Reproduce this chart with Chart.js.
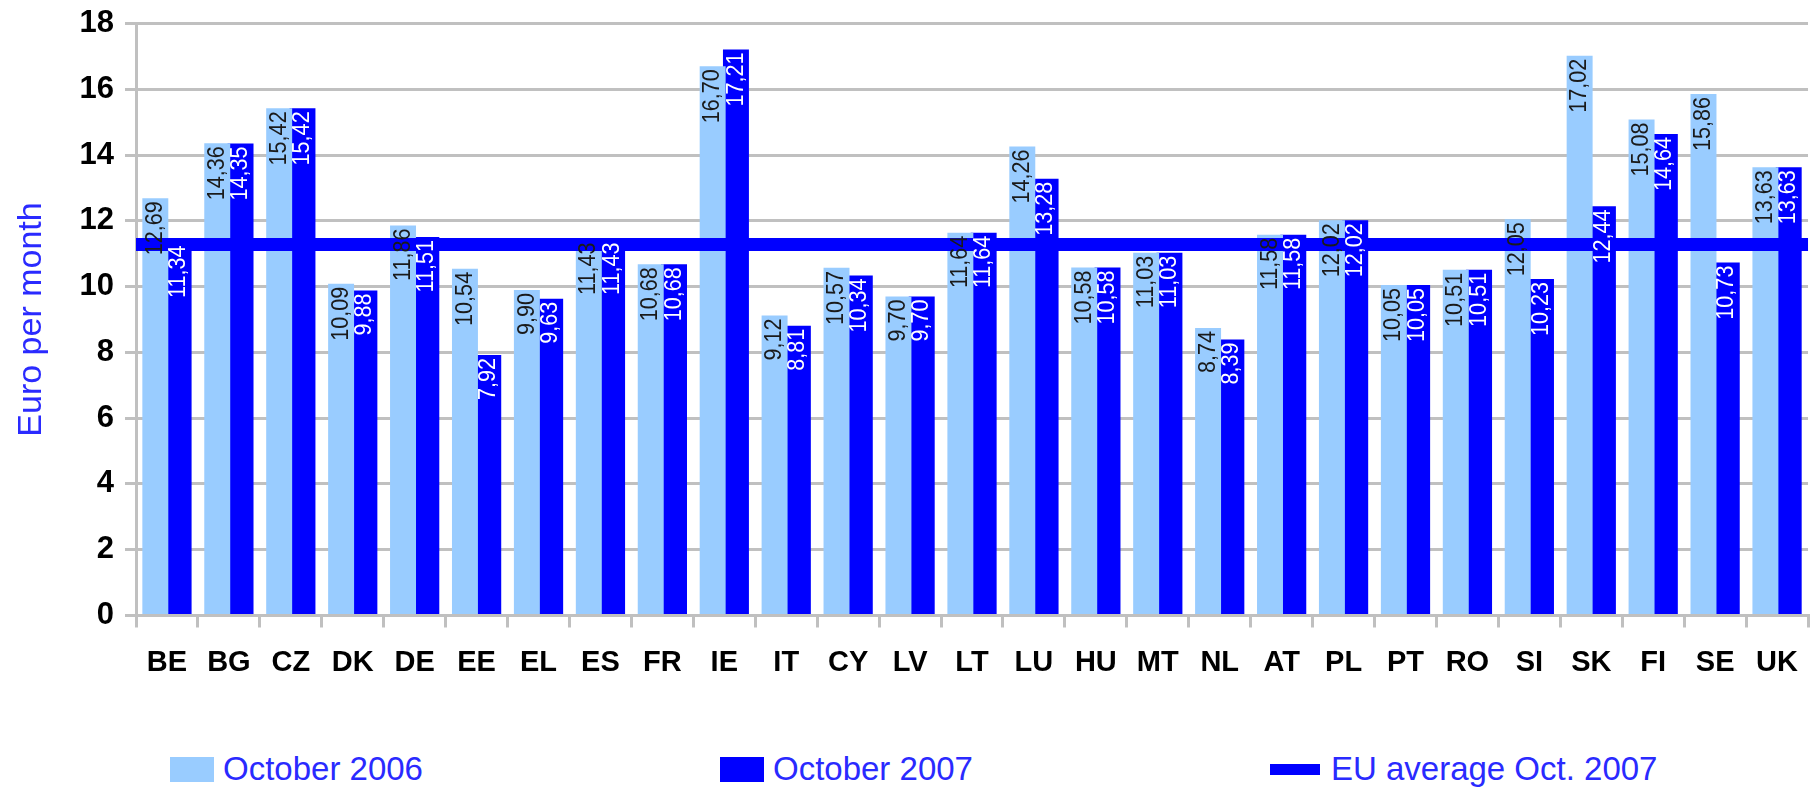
<!DOCTYPE html>
<html>
<head>
<meta charset="utf-8">
<script src="https://cdn.jsdelivr.net/npm/chart.js@4.4.1/dist/chart.umd.min.js"></script>
<style>
    html, body { margin: 0; padding: 0; background: #fff; overflow: hidden; }
    #wrap { position: relative; width: 1811px; height: 789px; overflow: hidden; }
    #grafico { position: absolute; left: 0; top: 0; }
    #legenda {
        position: absolute; left: 170px; top: 750px;
        display: flex; align-items: center; gap: 297px;
        font-family: "Liberation Sans", Arial, sans-serif; font-size: 33px; color: #2a2aff;
    }
    .item { display: flex; align-items: center; white-space: nowrap; }
    .caixa { width: 44px; height: 25px; margin-right: 9px; }
    .linha { width: 50px; height: 11px; margin-right: 11px; }
</style>
</head>
<body>
<div id="wrap">
    <canvas id="grafico" width="1816" height="700"></canvas>
    <div id="legenda"></div>
</div>
<script>
// ================= DADOS =================
const paises = ["BE", "BG", "CZ", "DK", "DE", "EE", "EL", "ES", "FR", "IE", "IT", "CY", "LV", "LT",
                "LU", "HU", "MT", "NL", "AT", "PL", "PT", "RO", "SI", "SK", "FI", "SE", "UK"];
const outubro2006 = [12.69, 14.36, 15.42, 10.09, 11.86, 10.54, 9.90, 11.43, 10.68, 16.70, 9.12, 10.57, 9.70, 11.64,
                     14.26, 10.58, 11.03, 8.74, 11.58, 12.02, 10.05, 10.51, 12.05, 17.02, 15.08, 15.86, 13.63];
const outubro2007 = [11.34, 14.35, 15.42, 9.88, 11.51, 7.92, 9.63, 11.43, 10.68, 17.21, 8.81, 10.34, 9.70, 11.64,
                     13.28, 10.58, 11.03, 8.39, 11.58, 12.02, 10.05, 10.51, 10.23, 12.44, 14.64, 10.73, 13.63];
const mediaUE = 11.28;
const yTicks = [0, 2, 4, 6, 8, 10, 12, 14, 16, 18];
const rotuloMedia = "EU average Oct. 2007";

const AZUL_CLARO = "#99ccff";
const AZUL = "#0000ff";
const CINZA = "#c0c0c0";
const FONTE = "'Liberation Sans', Arial, sans-serif";

// ================= LINHA DA MEDIA UE =================
const mediaPlugin = {
    id: "mediaUE",
    afterDatasetsDraw(chart) {
        const ctx = chart.ctx;
        const y = chart.scales.y.getPixelForValue(mediaUE);
        const area = chart.chartArea;
        ctx.save();
        ctx.strokeStyle = AZUL;
        ctx.lineWidth = 13;
        ctx.beginPath();
        ctx.moveTo(area.left, y);
        ctx.lineTo(area.right, y);
        ctx.stroke();
        ctx.restore();
    }
};

// ================= ROTULOS DAS BARRAS =================
const rotulosPlugin = {
    id: "rotulos",
    afterDatasetsDraw(chart) {
        const ctx = chart.ctx;
        chart.data.datasets.forEach((ds, i) => {
            const meta = chart.getDatasetMeta(i);
            meta.data.forEach((barra, j) => {
                const texto = ds.data[j].toFixed(2).replace(".", ",");
                ctx.save();
                ctx.translate(barra.x, barra.y + 3);
                ctx.rotate(-Math.PI / 2);
                ctx.scale(0.9, 1);
                ctx.font = "24px " + FONTE;
                ctx.fillStyle = ds.corRotulo;
                ctx.textAlign = "right";
                ctx.textBaseline = "middle";
                ctx.fillText(texto, 0, 0);
                ctx.restore();
            });
        });
    }
};

// ================= GRAFICO =================
const ctx = document.getElementById("grafico").getContext("2d");

const grafico = new Chart(ctx, {
    type: "bar",
    data: {
        labels: paises,
        datasets: [
            {
                label: "October 2006",
                data: outubro2006,
                backgroundColor: AZUL_CLARO,
                corRotulo: "#1a1a1a",
                categoryPercentage: 0.752,
                barPercentage: 1.115
            },
            {
                label: "October 2007",
                data: outubro2007,
                backgroundColor: AZUL,
                corRotulo: "#ffffff",
                categoryPercentage: 0.752,
                barPercentage: 1.115
            }
        ]
    },
    options: {
        responsive: false,
        animation: false,
        layout: { padding: { top: 23.5, left: 0, right: 0, bottom: 0 } },
        plugins: {
            legend: { display: false },
            tooltip: { enabled: false }
        },
        scales: {
            x: {
                grid: { drawOnChartArea: false, offset: true, color: CINZA, lineWidth: 3, tickLength: 12 },
                border: { color: CINZA, width: 3 },
                ticks: { color: "#000", padding: 18, font: { family: FONTE, size: 29, weight: "bold" } },
                afterFit: (s) => { s.height = 84.5; }
            },
            y: {
                min: 0,
                max: 18,
                afterBuildTicks: (s) => { s.ticks = yTicks.map(v => ({ value: v })); },
                grid: { color: CINZA, lineWidth: 3, tickLength: 11 },
                border: { color: CINZA, width: 3 },
                ticks: { color: "#000", padding: 11, font: { family: FONTE, size: 31, weight: "bold", lineHeight: 0.5 } },
                title: {
                    display: true,
                    text: "Euro per month",
                    color: "#2a2aff",
                    font: { family: FONTE, size: 34 },
                    padding: { top: 11, bottom: 0 }
                },
                afterFit: (s) => { s.width = 136; }
            }
        }
    },
    plugins: [mediaPlugin, rotulosPlugin]
});

// ================= LEGENDA =================
function montarLegenda() {
    const legenda = document.getElementById("legenda");
    legenda.innerHTML = "";
    const itens = grafico.data.datasets.map(ds => ({ texto: ds.label, cor: ds.backgroundColor, classe: "caixa" }));
    itens.push({ texto: rotuloMedia, cor: AZUL, classe: "linha" });
    itens.forEach(it => {
        const item = document.createElement("div");
        item.className = "item";
        const simbolo = document.createElement("div");
        simbolo.className = it.classe;
        simbolo.style.background = it.cor;
        const texto = document.createElement("span");
        texto.textContent = it.texto;
        item.appendChild(simbolo);
        item.appendChild(texto);
        legenda.appendChild(item);
    });
}
montarLegenda();
</script>
</body>
</html>
